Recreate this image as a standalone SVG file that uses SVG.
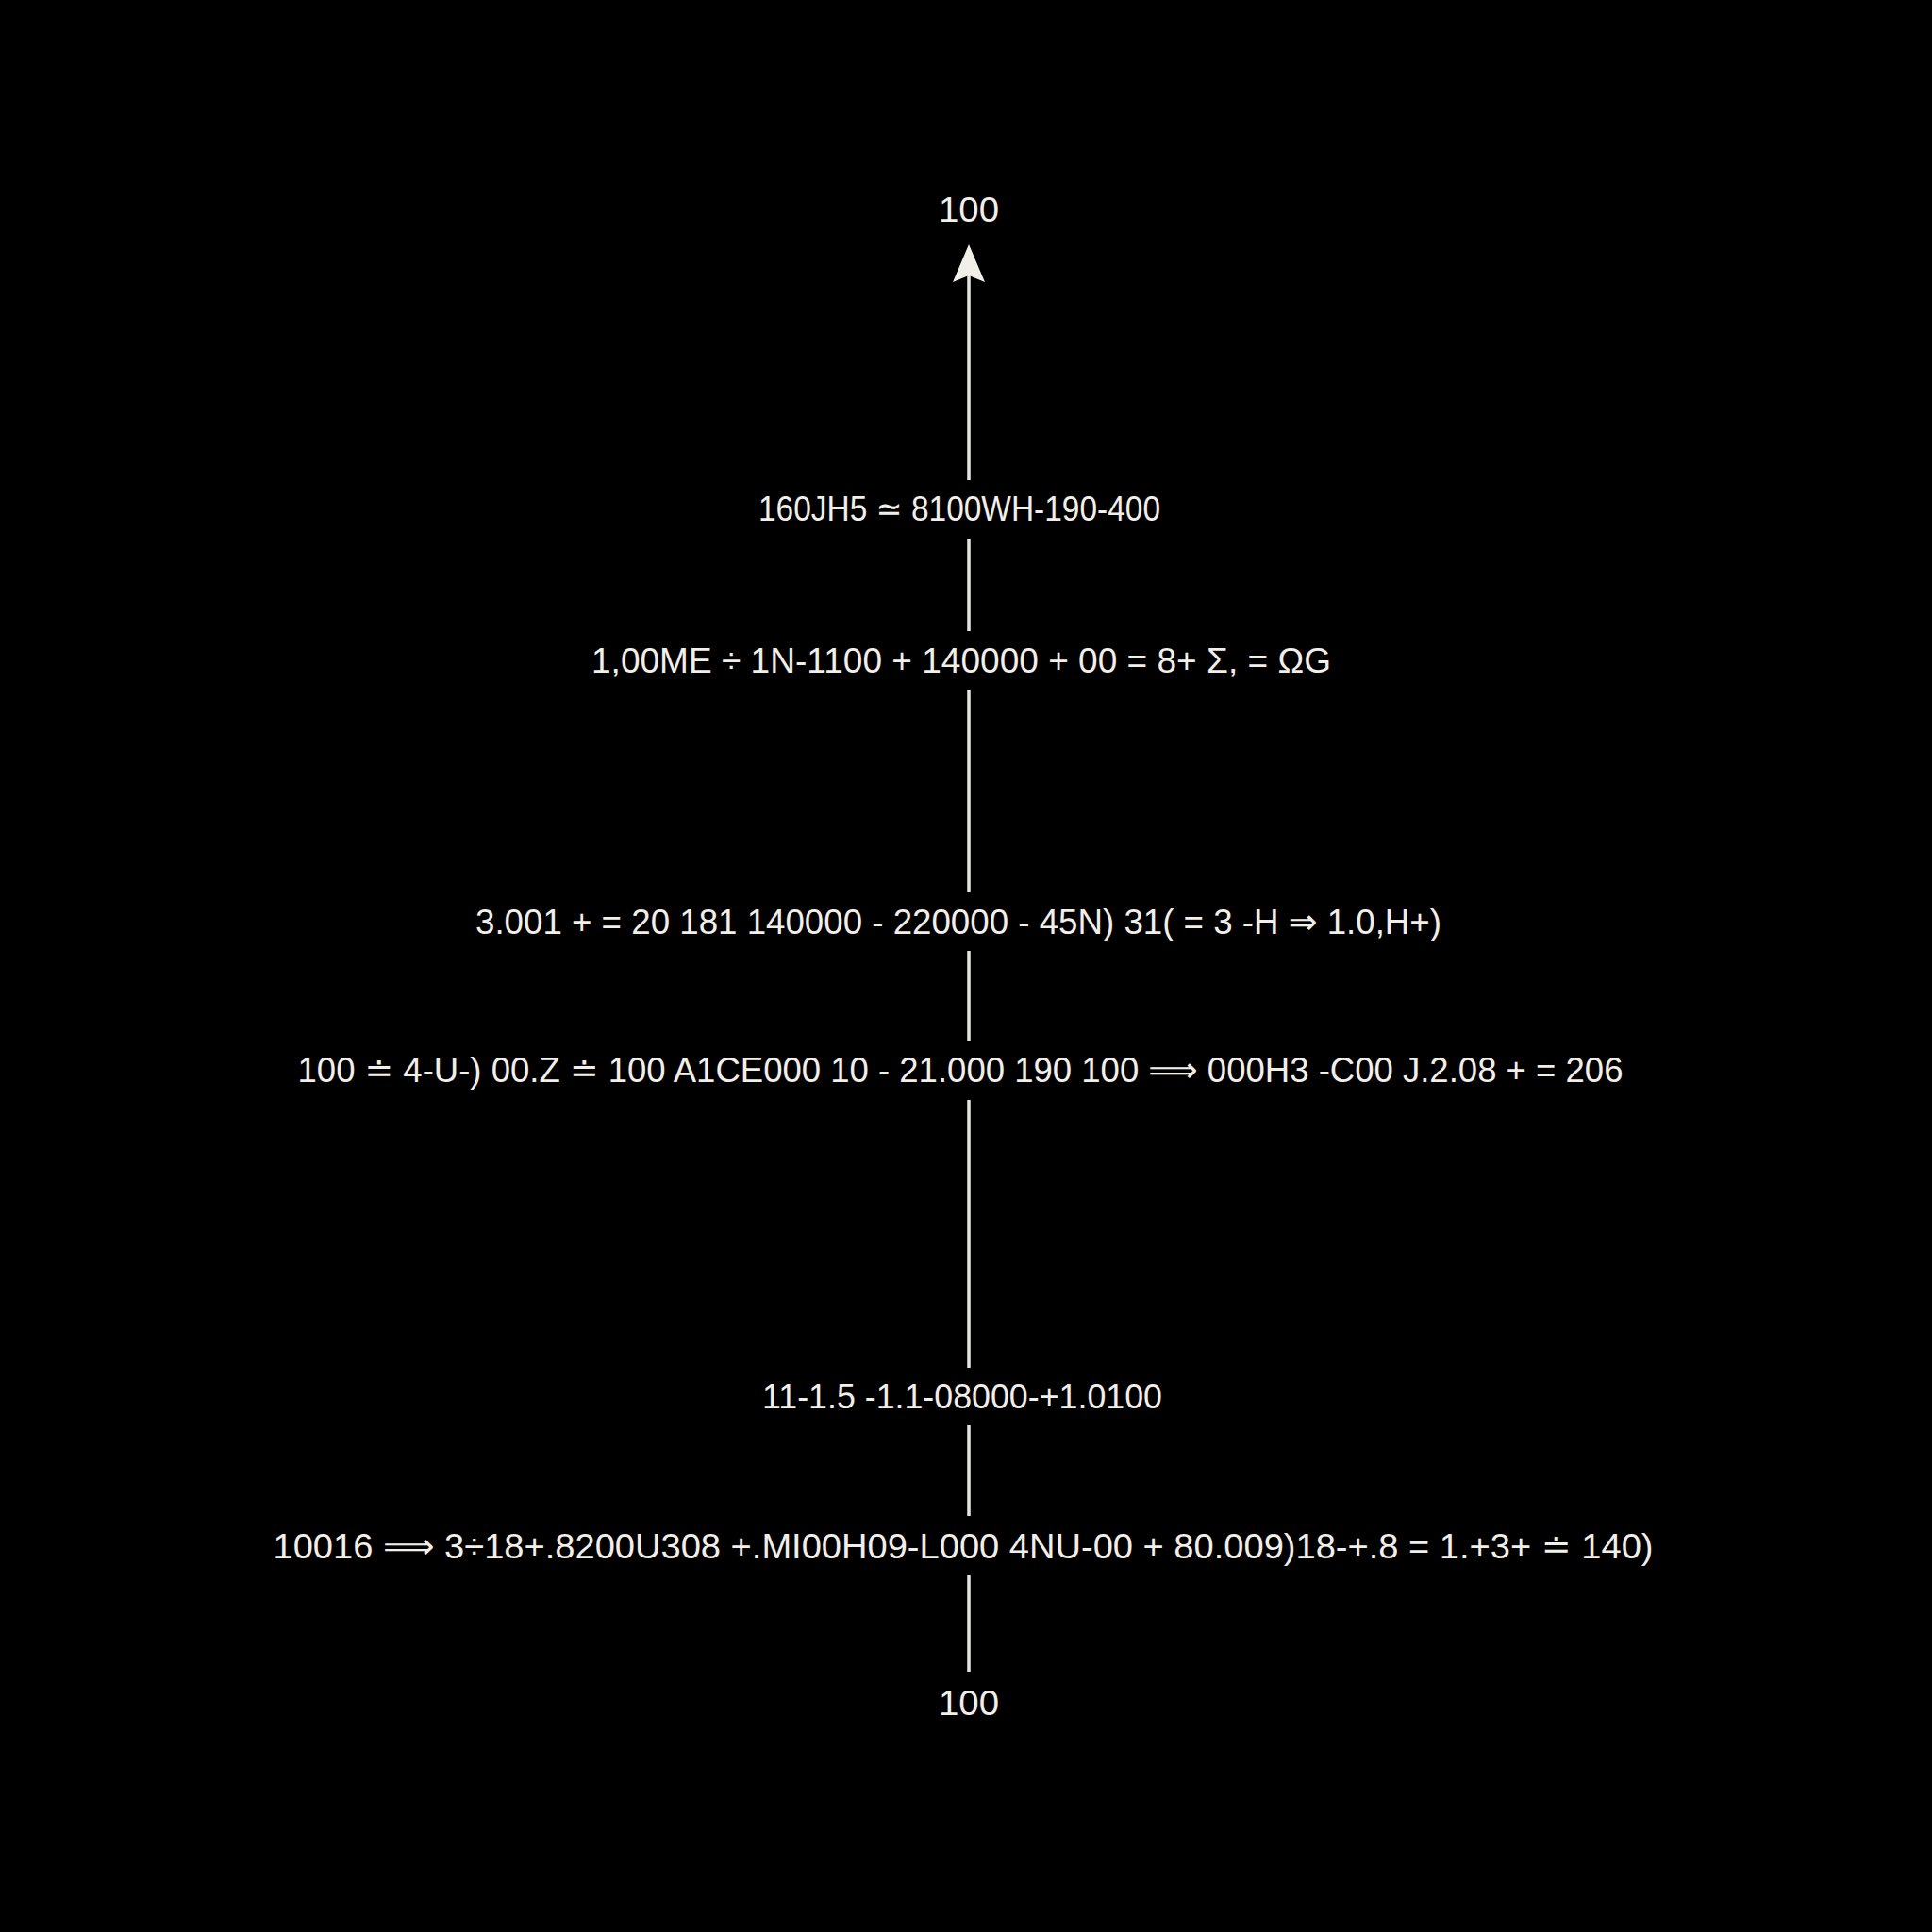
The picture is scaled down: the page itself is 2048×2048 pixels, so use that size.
<svg xmlns="http://www.w3.org/2000/svg" width="2048" height="2048" viewBox="0 0 2048 2048">
<style>
.t{font-family:"Liberation Sans","DejaVu Sans",sans-serif;font-size:37px;fill:#f2eee8;text-anchor:middle}
.c{stroke:#e8e4de;stroke-width:3.5;fill:none}
</style>
<defs>
<marker id="ah" markerUnits="userSpaceOnUse" markerWidth="42" markerHeight="36" refX="11" refY="18" orient="auto" viewBox="0 0 42 36">
<path d="M42 18 L2 1 L9 18 L2 35 Z" fill="#f2eee8"/>
</marker>
</defs>
<rect width="2048" height="2048" fill="#000"/>
<g id="connectors">
<line class="c" x1="1027" y1="509" x2="1027" y2="290" marker-end="url(#ah)"/>
<line class="c" x1="1027" y1="571" x2="1027" y2="669"/>
<line class="c" x1="1027" y1="731" x2="1027" y2="946"/>
<line class="c" x1="1027" y1="1008" x2="1027" y2="1104"/>
<line class="c" x1="1027" y1="1166" x2="1027" y2="1450"/>
<line class="c" x1="1027" y1="1511" x2="1027" y2="1607"/>
<line class="c" x1="1027" y1="1670" x2="1027" y2="1772"/>
</g>
<g id="n1"><text class="t" x="1027" y="235" textLength="64" lengthAdjust="spacingAndGlyphs">100</text></g>
<g id="n2"><text class="t" x="1017" y="552" textLength="426" lengthAdjust="spacingAndGlyphs">160JH5 ≃ 8100WH-190-400</text></g>
<g id="n3"><text class="t" x="1019" y="713" textLength="784" lengthAdjust="spacingAndGlyphs">1,00ME ÷ 1N-1100 + 140000 + 00 = 8+ Σ, = ΩG</text></g>
<g id="n4"><text class="t" x="1016" y="990" textLength="1024" lengthAdjust="spacingAndGlyphs">3.001 + = 20 181 140000 - 220000 - 45N) 31( = 3 -H ⇒ 1.0,H+)</text></g>
<g id="n5"><text class="t" x="1018" y="1147" textLength="1405" lengthAdjust="spacingAndGlyphs">100 ≐ 4-U-) 00.Z ≐ 100 A1CE000 10 - 21.000 190 100 ⟹ 000H3 -C00 J.2.08 + = 206</text></g>
<g id="n6"><text class="t" x="1020" y="1493" textLength="424" lengthAdjust="spacingAndGlyphs">11-1.5 -1.1-08000-+1.0100</text></g>
<g id="n7"><text class="t" x="1021" y="1652" textLength="1463" lengthAdjust="spacingAndGlyphs">10016 ⟹ 3÷18+.8200U308 +.MI00H09-L000 4NU-00 + 80.009)18-+.8 = 1.+3+ ≐ 140)</text></g>
<g id="n8"><text class="t" x="1027" y="1818" textLength="64" lengthAdjust="spacingAndGlyphs">100</text></g>
</svg>
